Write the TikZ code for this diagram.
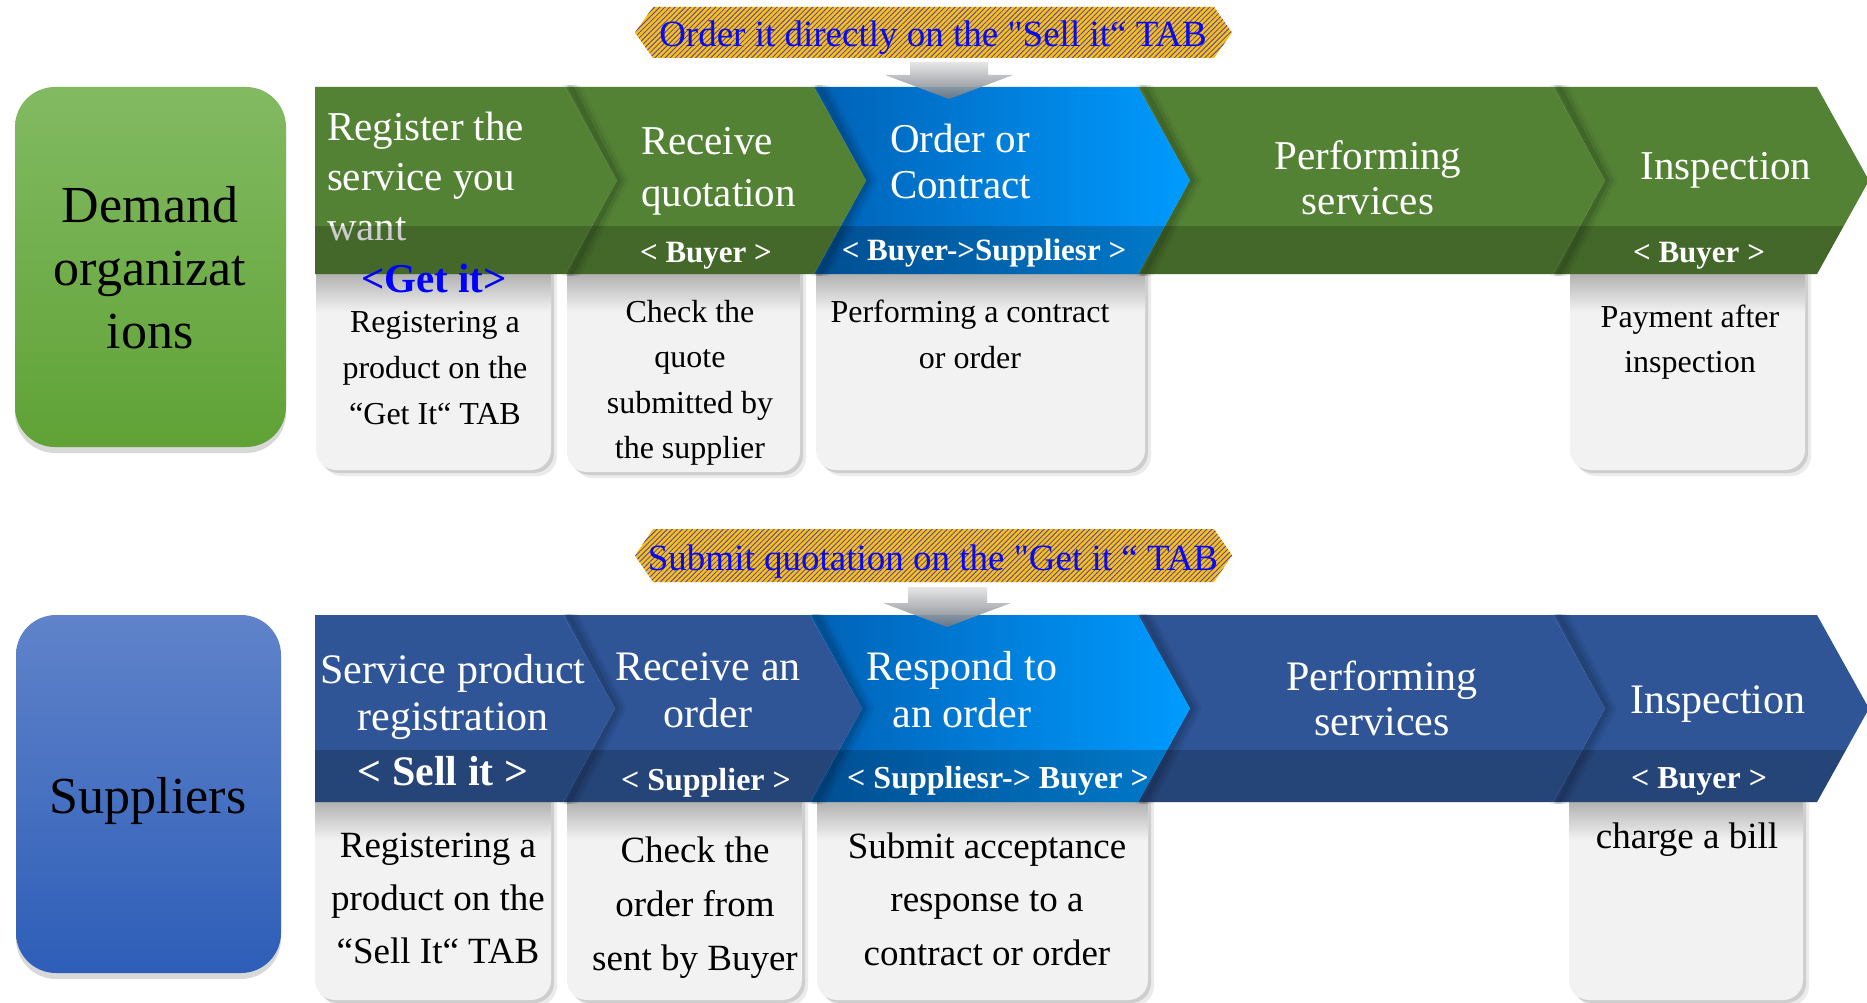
\documentclass[tikz,border=0pt]{standalone}
\usepackage{fontspec}
\setmainfont{Liberation Serif}
\newfontfamily\plainserif{Liberation Serif}
\usetikzlibrary{patterns.meta,shadows}

\definecolor{gchev}{RGB}{84,130,53}
\definecolor{bchev}{RGB}{47,85,151}
\definecolor{hlL}{RGB}{0,98,182}
\definecolor{hlR}{RGB}{0,155,255}
\definecolor{cardg}{RGB}{242,242,242}
\definecolor{cardtop}{RGB}{178,178,178}
\definecolor{gold}{RGB}{255,192,0}
\definecolor{hatch}{RGB}{60,60,240}
\definecolor{greenT}{RGB}{130,186,98}
\definecolor{greenB}{RGB}{96,162,54}
\definecolor{blueT}{RGB}{96,131,202}
\definecolor{blueB}{RGB}{46,94,184}
\definecolor{arrT}{RGB}{228,228,228}
\definecolor{arrB}{RGB}{112,118,128}
\definecolor{bannerblue}{RGB}{10,10,240}

\newcommand\setfs[2]{\fontsize{#1}{#2}\selectfont}
% chevron: xl xr yt yb notch
\newcommand\chev[5]{(#1,#3) -- (#2,#3) -- ({#2+52},{(#3+#4)/2}) -- (#2,#4) -- (#1,#4) -- ({#1+#5},{(#3+#4)/2}) -- cycle}
\newcommand\hexpath[2]{(635,{(#1+#2)/2}) -- (653,#1) -- (1214,#1) -- (1232,{(#1+#2)/2}) -- (1214,#2) -- (653,#2) -- cycle}
% soft shadow right of a chevron tip: xr yt yb
\newcommand\tipshade[3]{%
  \begin{scope}
    \clip (0,{#2-1}) rectangle (1867,{#3+1});
    \draw[black,opacity=.05,line width=16pt] ({#1+3},{#2-8}) -- ({#1+55},{(#2+#3)/2}) -- ({#1+3},{#3+8});
    \draw[black,opacity=.07,line width=10pt] ({#1+3},{#2-8}) -- ({#1+55},{(#2+#3)/2}) -- ({#1+3},{#3+8});
    \draw[black,opacity=.10,line width=5pt] ({#1+2},{#2-8}) -- ({#1+54},{(#2+#3)/2}) -- ({#1+2},{#3+8});
  \end{scope}}
% card: xl xr yt yb
\newcommand\card[4]{%
  \fill[black,opacity=.08,rounded corners=20pt] ({#1+6},{#3-30}) rectangle ({#2+6},{#4+6});
  \fill[black,opacity=.12,rounded corners=20pt] ({#1+3},{#3-30}) rectangle ({#2+3},{#4+3});
  \fill[cardg,rounded corners=20pt] (#1,{#3-30}) rectangle (#2,#4);
  \begin{scope}
    \clip[rounded corners=20pt] (#1,{#3-30}) rectangle (#2,#4);
    \shade[top color=cardtop, bottom color=cardg] (#1,#3) rectangle (#2,{#3+38});
  \end{scope}}
% band: xl xr yt yb notch bandtop
\newcommand\band[6]{%
  \begin{scope}
    \clip \chev{#1}{#2}{#3}{#4}{#5};
    \fill[bandfill] ({#1-5},#6) rectangle ({#2+60},{#4+1});
  \end{scope}}

\tikzset{
  txt/.style={inner sep=0pt, outer sep=0pt},
  wt/.style={txt, text=white},
  bk/.style={txt, text=black},
  bandfill/.style={fill=black, fill opacity=0.2},
  arrowshade/.style={top color=arrT, bottom color=arrB, fill opacity=0.9},
  hatchfill/.style={pattern={Lines[angle=45,distance=3.6pt,line width=0.8pt]}, pattern color=hatch},
}

\begin{document}
\begin{tikzpicture}[x=1pt,y=-1pt]
\useasboundingbox (0,0) rectangle (1867,1003);
\fill[white] (0,0) rectangle (1867,1003);

%================ TOP ROW ================
% banner
\fill[gold] \hexpath{7}{58};
\fill[hatchfill] \hexpath{7}{58};
\node[txt, text=bannerblue, anchor=base, font=\plainserif\setfs{37}{44}] (ban1) at (933,47) {Order it directly on the "Sell it“ TAB};

% actor box
\node[rounded corners=40pt, minimum width=271pt, minimum height=360pt, top color=greenT, bottom color=greenB,
      drop shadow={opacity=.3, shadow xshift=0pt, shadow yshift=-6pt}] (demandbox) at (150.5,267) {};
\node[bk, anchor=north, align=center, font=\setfs{52}{63}] (demand) at (150,177.9)
  {\strut Demand\\\strut organizat\\\strut ions};

% cards
\card{316}{551}{274}{470}
\card{567}{800}{274}{472}
\card{816}{1145}{274}{470}
\card{1570}{1805}{274}{470}

% chevrons (right to left)
\fill[gchev] \chev{1553}{1817}{87}{274}{52};
\band{1553}{1817}{87}{274}{52}{226}
\node[wt, anchor=base, font=\setfs{41}{46}] (t15) at (1726,180) {Inspection};
\node[wt, anchor=base, font=\setfs{31}{36}\bfseries] (r15) at (1699,262) {< Buyer >};

\tipshade{1553}{87}{274}
\fill[gchev] \chev{1138}{1553}{87}{274}{52};
\band{1138}{1553}{87}{274}{52}{226}
\node[wt, anchor=north, align=center, font=\setfs{41}{45}] (t14) at (1368,138.5) {\strut Performing\\\strut services};

\tipshade{1138}{87}{274}
\shade[left color=hlL, right color=hlR] \chev{814}{1138}{87}{274}{52};
\band{814}{1138}{87}{274}{52}{226}
\node[wt, anchor=north west, align=left, font=\setfs{41}{46}] (t13) at (890,119.8) {\strut Order or\\\strut Contract};
\node[wt, anchor=base, font=\setfs{31}{36}\bfseries] (r13) at (984,260) {< Buyer->Suppliesr >};

\tipshade{814}{87}{274}
\fill[gchev] \chev{565}{814}{87}{274}{52};
\band{565}{814}{87}{274}{52}{226}
\node[wt, anchor=north west, align=left, font=\setfs{41}{52}] (t12) at (641,118.6) {\strut Receive\\\strut quotation};
\node[wt, anchor=base, font=\setfs{31}{36}\bfseries] (r12) at (706,262) {< Buyer >};

\tipshade{565}{87}{274}
\fill[gchev] \chev{315}{565}{87}{274}{0};
\node[wt, anchor=north west, align=left, font=\setfs{41}{50}] (t11) at (327,105) {\strut Register the\\\strut service you\\\strut want};
\band{315}{565}{87}{274}{0}{226}

% card texts
\node[txt, text=blue, anchor=base, font=\setfs{41}{46}\bfseries] (get) at (434,292) {<Get it>};
\node[bk, anchor=north, align=center, font=\setfs{32}{46}] (c11) at (435,299.8)
  {\strut Registering a\\\strut product on the\\\strut “Get It“ TAB};
\node[bk, anchor=north, align=center, font=\setfs{32}{45.5}] (c12) at (690,290.2)
  {\strut Check the\\\strut quote\\\strut submitted by\\\strut the supplier};
\node[bk, anchor=north, align=center, font=\setfs{32}{46}] (c13) at (970,289.8)
  {\strut Performing a contract\\\strut or order};
\node[bk, anchor=north, align=center, font=\setfs{32}{45}] (c15) at (1690,295.5)
  {\strut Payment after\\\strut inspection};

% arrow
\shade[arrowshade] (910,62) -- (988,62) -- (988,75) -- (1013,75) -- (949,99) -- (885,75) -- (910,75) -- cycle;

%================ BOTTOM ROW ================
\fill[gold] \hexpath{529}{582};
\fill[hatchfill] \hexpath{529}{582};
\node[txt, text=bannerblue, anchor=base, font=\plainserif\setfs{37}{44}] (ban2) at (933,570) {Submit quotation on the "Get it “ TAB};

\node[rounded corners=40pt, minimum width=265pt, minimum height=358pt, top color=blueT, bottom color=blueB,
      drop shadow={opacity=.3, shadow xshift=0pt, shadow yshift=-6pt}] (supbox) at (148.5,794) {};
\node[bk, anchor=base, font=\setfs{52}{63}] (sup) at (148,813) {Suppliers};

\card{315}{551}{802}{1000}
\card{567}{802}{802}{1000}
\card{817}{1148}{802}{1000}
\card{1569}{1803}{802}{1000}

\fill[bchev] \chev{1553}{1817}{615}{802}{52};
\band{1553}{1817}{615}{802}{52}{750}
\node[wt, anchor=base, font=\setfs{42}{47}] (t25) at (1718,713) {Inspection};
\node[wt, anchor=base, font=\setfs{32}{36}\bfseries] (r25) at (1699,788) {< Buyer >};

\tipshade{1553}{615}{802}
\fill[bchev] \chev{1138}{1553}{615}{802}{52};
\band{1138}{1553}{615}{802}{52}{750}
\node[wt, anchor=north, align=center, font=\setfs{42}{45}] (t24) at (1382,658.5) {\strut Performing\\\strut services};

\tipshade{1138}{615}{802}
\shade[left color=hlL, right color=hlR] \chev{810}{1138}{615}{802}{52};
\band{810}{1138}{615}{802}{52}{750}
\node[wt, anchor=north, align=center, font=\setfs{42}{47}] (t23) at (962,647.1) {\strut Respond to\\\strut an order};
\node[wt, anchor=base, font=\setfs{32}{36}\bfseries] (r23) at (998,788) {< Suppliesr-> Buyer >};

\tipshade{810}{615}{802}
\fill[bchev] \chev{563}{810}{615}{802}{52};
\band{563}{810}{615}{802}{52}{750}
\node[wt, anchor=north, align=center, font=\setfs{42}{47}] (t22) at (708,647.1) {\strut Receive an\\\strut order};
\node[wt, anchor=base, font=\setfs{32}{36}\bfseries] (r22) at (706,790) {< Supplier >};

\tipshade{563}{615}{802}
\fill[bchev] \chev{315}{563}{615}{802}{0};
\band{315}{563}{615}{802}{0}{750}
\node[wt, anchor=north, align=center, font=\setfs{42}{47}] (t21) at (453,650.1) {\strut Service product\\\strut registration};
\node[wt, anchor=base, font=\setfs{42}{47}\bfseries] (r21) at (443,785) {< Sell it >};

\node[bk, anchor=north, align=center, font=\setfs{37}{53}] (c21) at (438,819.9)
  {\strut Registering a\\\strut product on the\\\strut “Sell It“ TAB};
\node[bk, anchor=north, align=center, font=\setfs{37}{54}] (c22) at (695,824.2)
  {\strut Check the\\\strut order from\\\strut sent by Buyer};
\node[bk, anchor=north, align=center, font=\setfs{37}{53.5}] (c23) at (987,820.55)
  {\strut Submit acceptance\\\strut response to a\\\strut contract or order};
\node[bk, anchor=base, font=\setfs{37}{44}] (c25) at (1687,848) {charge a bill};

\shade[arrowshade] (908,587) -- (987,587) -- (987,603) -- (1011,603) -- (947,627) -- (883,603) -- (908,603) -- cycle;
\end{tikzpicture}
\end{document}
